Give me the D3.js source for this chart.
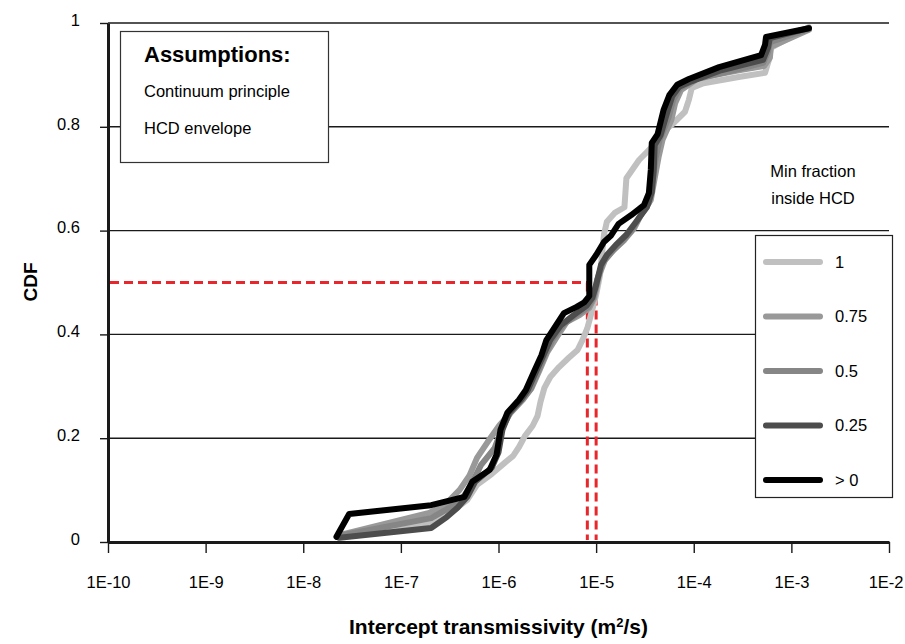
<!DOCTYPE html>
<html>
<head>
<meta charset="utf-8">
<script src="https://cdn.jsdelivr.net/npm/d3@7"></script>
<style>
  body { margin: 0; background: #fff; }
  svg { display: block; font-family: "Liberation Sans", Arial, Helvetica, sans-serif; }
</style>
</head>
<body>
<svg id="chart" width="905" height="644"></svg>
<script>
// Axis ticks
const xTickExponents = [-10, -9, -8, -7, -6, -5, -4, -3, -2];
const yTickValues = [0, 0.2, 0.4, 0.6, 0.8, 1];
const yTickLabels = ["0", "0.2", "0.4", "0.6", "0.8", "1"];

// Legend names (minimum fraction inside HCD)
const seriesNames = ["1", "0.75", "0.5", "0.25", "> 0"];

// CDF curves: [log10 of intercept transmissivity (m2/s), CDF]
const cdfFrac100 = [[-7.63,0.010],[-6.66,0.037],[-6.48,0.058],[-6.32,0.081],[-6.22,0.110],[-6.07,0.131],[-5.94,0.152],[-5.85,0.166],[-5.79,0.183],[-5.73,0.204],[-5.65,0.224],[-5.60,0.243],[-5.57,0.270],[-5.53,0.297],[-5.47,0.318],[-5.38,0.337],[-5.28,0.355],[-5.19,0.370],[-5.14,0.389],[-5.09,0.412],[-5.04,0.447],[-5.00,0.476],[-4.96,0.514],[-4.94,0.553],[-4.92,0.592],[-4.89,0.617],[-4.81,0.634],[-4.71,0.645],[-4.69,0.701],[-4.56,0.736],[-4.44,0.759],[-4.36,0.784],[-4.23,0.803],[-4.09,0.829],[-4.05,0.852],[-4.02,0.875],[-3.90,0.884],[-3.54,0.896],[-3.27,0.904],[-3.23,0.929],[-3.21,0.952],[-2.82,0.992]];
const cdfFrac075 = [[-7.63,0.013],[-6.71,0.056],[-6.55,0.071],[-6.40,0.100],[-6.30,0.127],[-6.22,0.162],[-6.11,0.193],[-5.99,0.225],[-5.87,0.250],[-5.75,0.274],[-5.66,0.297],[-5.58,0.331],[-5.50,0.366],[-5.41,0.393],[-5.30,0.424],[-5.17,0.437],[-5.07,0.451],[-5.02,0.470],[-4.97,0.514],[-4.91,0.543],[-4.82,0.563],[-4.71,0.582],[-4.61,0.605],[-4.53,0.634],[-4.44,0.659],[-4.40,0.701],[-4.36,0.742],[-4.32,0.775],[-4.23,0.813],[-4.19,0.846],[-4.13,0.871],[-3.95,0.894],[-3.54,0.909],[-3.28,0.917],[-3.22,0.933],[-3.21,0.954],[-2.82,0.987]];
const cdfFrac050 = [[-7.63,0.012],[-6.69,0.046],[-6.54,0.062],[-6.38,0.081],[-6.28,0.110],[-6.18,0.148],[-6.04,0.181],[-5.96,0.220],[-5.88,0.249],[-5.76,0.274],[-5.67,0.295],[-5.59,0.331],[-5.52,0.362],[-5.45,0.389],[-5.33,0.420],[-5.19,0.439],[-5.08,0.453],[-5.03,0.470],[-4.99,0.505],[-4.93,0.539],[-4.84,0.559],[-4.74,0.578],[-4.64,0.599],[-4.55,0.628],[-4.46,0.653],[-4.42,0.697],[-4.39,0.740],[-4.35,0.775],[-4.26,0.817],[-4.21,0.852],[-4.14,0.875],[-3.97,0.892],[-3.59,0.909],[-3.29,0.923],[-3.24,0.944],[-3.22,0.963],[-2.82,0.988]];
const cdfFrac025 = [[-7.63,0.008],[-6.69,0.027],[-6.53,0.048],[-6.42,0.066],[-6.32,0.087],[-6.24,0.116],[-6.07,0.143],[-6.00,0.173],[-5.96,0.216],[-5.89,0.249],[-5.77,0.274],[-5.70,0.293],[-5.61,0.331],[-5.54,0.360],[-5.47,0.389],[-5.36,0.418],[-5.23,0.437],[-5.10,0.455],[-5.04,0.470],[-5.00,0.495],[-4.95,0.534],[-4.89,0.553],[-4.80,0.572],[-4.69,0.592],[-4.59,0.617],[-4.48,0.645],[-4.43,0.674],[-4.41,0.717],[-4.40,0.765],[-4.34,0.784],[-4.27,0.829],[-4.22,0.859],[-4.15,0.877],[-4.02,0.888],[-3.72,0.909],[-3.29,0.929],[-3.24,0.952],[-3.22,0.971],[-2.82,0.990]];
const cdfFracAny = [[-7.66,0.010],[-7.53,0.054],[-6.69,0.071],[-6.35,0.087],[-6.27,0.116],[-6.09,0.139],[-6.02,0.168],[-5.98,0.216],[-5.91,0.249],[-5.79,0.274],[-5.72,0.293],[-5.63,0.331],[-5.56,0.360],[-5.51,0.389],[-5.43,0.412],[-5.33,0.441],[-5.20,0.453],[-5.12,0.462],[-5.07,0.474],[-5.07,0.534],[-5.00,0.553],[-4.92,0.578],[-4.85,0.590],[-4.77,0.613],[-4.64,0.630],[-4.51,0.649],[-4.46,0.672],[-4.44,0.717],[-4.43,0.769],[-4.37,0.786],[-4.31,0.832],[-4.25,0.861],[-4.17,0.881],[-4.05,0.892],[-3.74,0.915],[-3.31,0.938],[-3.27,0.958],[-3.26,0.973],[-2.82,0.990]];

// Median reference lines (log10 T at CDF = 0.5)
const medianLogT = [-5.09, -5.00];
const medianCdf = 0.5;

const seriesData = [cdfFrac100, cdfFrac075, cdfFrac050, cdfFrac025, cdfFracAny];
const seriesColors = ["#c0c0c0", "#999999", "#868686", "#4d4d4d", "#000000"];

const svg = d3.select("#chart");
const width = 905;
const plot = { left: 108, right: 889, top: 23, bottom: 542 };
const baseFont = 16.5;

const x = d3.scaleLog().domain([1e-10, 1e-2]).range([plot.left, plot.right]);
const y = d3.scaleLinear().domain([0, 1]).range([plot.bottom, plot.top]);

// Horizontal grid lines
svg.append("g")
  .selectAll("line")
  .data(yTickValues.filter(v => v > 0))
  .join("line")
  .attr("x1", plot.left).attr("x2", plot.right)
  .attr("y1", d => y(d)).attr("y2", d => y(d))
  .attr("stroke", "#1a1a1a").attr("stroke-width", 1.4);

// Y axis
const yAxis = svg.append("g")
  .attr("transform", `translate(${plot.left},0)`)
  .call(d3.axisLeft(y).tickValues(yTickValues).tickSize(8).tickSizeOuter(0).tickPadding(20)
    .tickFormat((d, i) => yTickLabels[i]));
yAxis.select(".domain").attr("stroke", "#1a1a1a").attr("stroke-width", 3);
yAxis.selectAll(".tick line").attr("stroke", "#1a1a1a").attr("stroke-width", 1.4);
yAxis.selectAll(".tick text").attr("font-size", baseFont).attr("fill", "#000").attr("y", -3);

// X axis
const xAxis = svg.append("g")
  .attr("transform", `translate(0,${plot.bottom})`)
  .call(d3.axisBottom(x).tickValues(xTickExponents.map(e => Math.pow(10, e)))
    .tickSize(11).tickSizeOuter(0).tickPadding(23)
    .tickFormat((d, i) => "1E" + xTickExponents[i]));
xAxis.select(".domain").attr("stroke", "#1a1a1a").attr("stroke-width", 3);
xAxis.selectAll(".tick line").attr("stroke", "#1a1a1a").attr("stroke-width", 1.4);
xAxis.selectAll(".tick text").attr("font-size", baseFont).attr("fill", "#000");

// Keep the last tick label inside the canvas
xAxis.selectAll(".tick text").each(function () {
  const bb = this.getBBox();
  const tickX = x(+d3.select(this.parentNode).datum());
  const overflow = tickX + bb.x + bb.width - (width - 2);
  if (overflow > 0) d3.select(this).attr("dx", -overflow);
});

// Red dashed median guides
const red = "#e8262b";
const guides = svg.append("g").attr("fill", "none").attr("stroke", red)
  .attr("stroke-width", 3).attr("stroke-dasharray", "9,5");
guides.append("line")
  .attr("x1", plot.left + 2).attr("x2", x(Math.pow(10, medianLogT[0])))
  .attr("y1", y(medianCdf)).attr("y2", y(medianCdf));
medianLogT.forEach(v => {
  guides.append("line")
    .attr("x1", x(Math.pow(10, v))).attr("x2", x(Math.pow(10, v)))
    .attr("y1", y(medianCdf)).attr("y2", y(0) - 2);
});

// CDF curves
const line = d3.line()
  .x(d => x(Math.pow(10, d[0])))
  .y(d => y(d[1]));

svg.append("g")
  .selectAll("path")
  .data(seriesData)
  .join("path")
  .attr("d", line)
  .attr("fill", "none")
  .attr("stroke", (d, i) => seriesColors[i])
  .attr("stroke-width", 6)
  .attr("stroke-linejoin", "round")
  .attr("stroke-linecap", "round");

// Assumptions box
const abox = svg.append("g");
abox.append("rect")
  .attr("x", 120.5).attr("y", 31.5).attr("width", 208).attr("height", 131)
  .attr("fill", "#fff").attr("stroke", "#333").attr("stroke-width", 1.2);
abox.append("text").attr("x", 144).attr("y", 62)
  .attr("font-size", 22).attr("font-weight", "bold").text("Assumptions:");
abox.append("text").attr("x", 144).attr("y", 97)
  .attr("font-size", baseFont).text("Continuum principle");
abox.append("text").attr("x", 144).attr("y", 134)
  .attr("font-size", baseFont).text("HCD envelope");

// Legend
svg.append("text").attr("x", 813).attr("y", 177).attr("text-anchor", "middle")
  .attr("font-size", baseFont).text("Min fraction");
svg.append("text").attr("x", 813).attr("y", 204).attr("text-anchor", "middle")
  .attr("font-size", baseFont).text("inside HCD");

const legend = svg.append("g");
legend.append("rect")
  .attr("x", 755.5).attr("y", 235.5).attr("width", 137).attr("height", 262)
  .attr("fill", "#fff").attr("stroke", "#222").attr("stroke-width", 1.2);
const rows = legend.selectAll("g.row")
  .data(seriesNames)
  .join("g")
  .attr("class", "row")
  .attr("transform", (d, i) => `translate(0,${262 + i * 54.5})`);
rows.append("line")
  .attr("x1", 766).attr("x2", 820).attr("y1", 0).attr("y2", 0)
  .attr("stroke", (d, i) => seriesColors[i])
  .attr("stroke-width", 6).attr("stroke-linecap", "round");
rows.append("text")
  .attr("x", 835).attr("y", 0).attr("dy", "0.35em")
  .attr("font-size", baseFont).text(d => d);

// Axis titles
svg.append("text")
  .attr("transform", "translate(37,282) rotate(-90)")
  .attr("text-anchor", "middle")
  .attr("font-size", 19).attr("font-weight", "bold")
  .text("CDF");

const xt = svg.append("text")
  .attr("x", (plot.left + plot.right) / 2).attr("y", 634)
  .attr("text-anchor", "middle")
  .attr("font-size", 21).attr("font-weight", "bold");
xt.append("tspan").text("Intercept transmissivity (m");
xt.append("tspan").attr("font-size", 13).attr("dy", -7).text("2");
xt.append("tspan").attr("dy", 7).text("/s)");
</script>
</body>
</html>
